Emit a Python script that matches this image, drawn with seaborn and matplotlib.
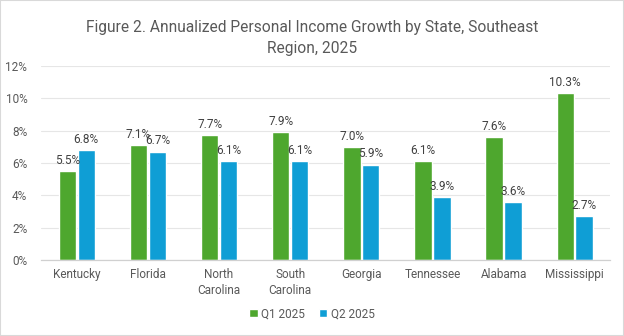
import matplotlib
matplotlib.use("Agg")
import matplotlib.pyplot as plt
import seaborn as sns
import pandas as pd
from matplotlib.patches import Rectangle

states = ["Kentucky", "Florida", "North\nCarolina", "South\nCarolina",
          "Georgia", "Tennessee", "Alabama", "Mississippi"]
q1_2025 = [5.5, 7.1, 7.7, 7.9, 7.0, 6.1, 7.6, 10.3]
q2_2025 = [6.8, 6.7, 6.1, 6.1, 5.9, 3.9, 3.6, 2.7]
series = ["Q1 2025", "Q2 2025"]
colors = ["#4EA72E", "#0F9ED5"]
yticks = [0, 2, 4, 6, 8, 10, 12]

df = pd.DataFrame({
    "State": states * 2,
    "Growth": q1_2025 + q2_2025,
    "Quarter": [series[0]] * len(states) + [series[1]] * len(states),
})

sns.set_theme(style="white")
plt.rcParams["font.family"] = ["Roboto", "DejaVu Sans"]

fig = plt.figure(figsize=(6.24, 3.36), dpi=100)
ax = fig.add_axes([0.066, 0.226, 0.912, 0.578])

sns.barplot(data=df, x="State", y="Growth", hue="Quarter", palette=colors,
            saturation=1, width=0.53, gap=0.08, ax=ax, legend=True)

for cont in ax.containers:
    ax.bar_label(cont, labels=[f"{v:.1f}%" for v in cont.datavalues],
                 padding=3, fontsize=8.5, color="#404040")

ax.set_ylim(0, 12)
ax.set_yticks(yticks)
ax.set_yticklabels([f"{t}%" for t in yticks])
ax.set_xlim(-0.5, len(states) - 0.5)
ax.set_xlabel("")
ax.set_ylabel("")
ax.yaxis.grid(True, color="#E6E6E6", linewidth=0.8)
ax.set_axisbelow(True)
for side in ["top", "right", "left"]:
    ax.spines[side].set_visible(False)
ax.spines["bottom"].set_color("#D0D0D0")
ax.spines["bottom"].set_linewidth(0.9)
ax.tick_params(axis="both", length=0, labelsize=8.5, labelcolor="#595959")
ax.tick_params(axis="y", pad=10)
ax.tick_params(axis="x", pad=6)
for lbl in ax.get_xticklabels():
    lbl.set_linespacing(1.3)

leg = ax.legend(loc="upper center", ncol=2, frameon=False, fontsize=8.5,
                handlelength=0.7, handleheight=0.7, handletextpad=0.3,
                columnspacing=1.2, borderaxespad=0)
leg.set_bbox_to_anchor((0.5, 0.1), transform=fig.transFigure)
for t in leg.get_texts():
    t.set_color("#595959")

fig.text(0.5, 0.94, "Figure 2. Annualized Personal Income Growth by State, Southeast\nRegion, 2025",
         ha="center", va="top", fontsize=11.2, color="#595959", linespacing=1.45)

fig.patches.append(Rectangle((0, 0), 1, 1, transform=fig.transFigure, fill=False,
                             edgecolor="#D9D9D9", linewidth=1.5))

fig.savefig("out.png", dpi=100)
